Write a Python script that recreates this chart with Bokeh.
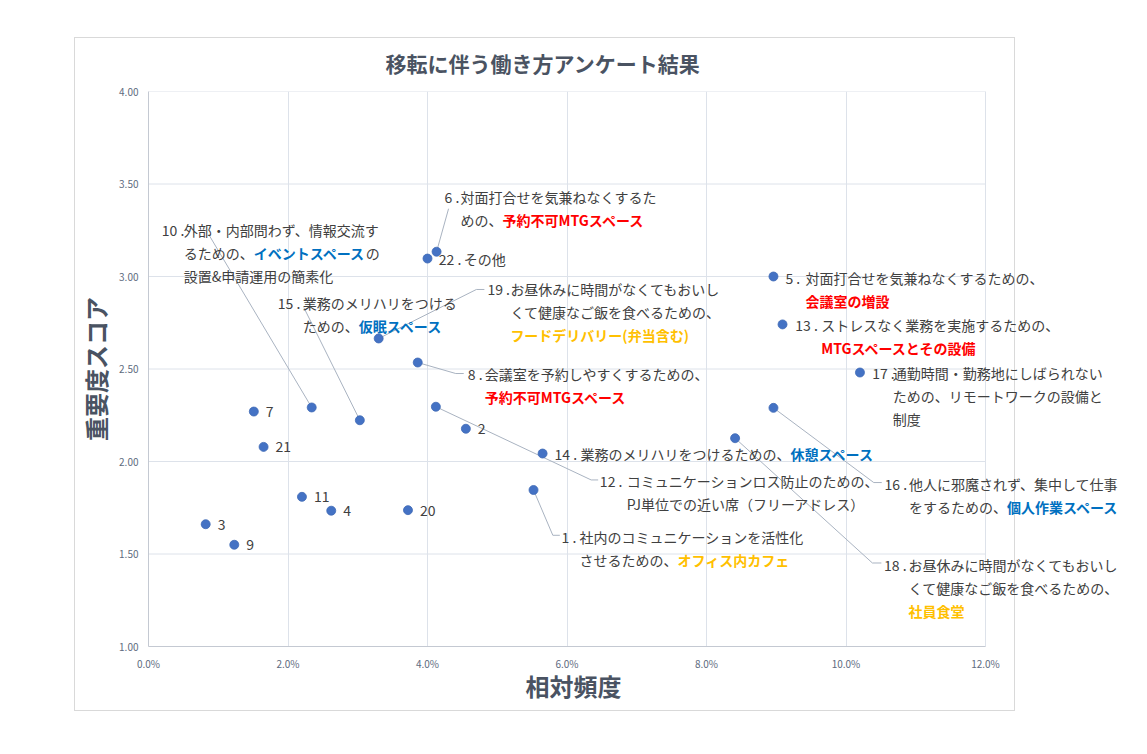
import re
from bokeh.plotting import figure
from bokeh.models import Range1d, Label, NumeralTickFormatter, FixedTicker, Title
from bokeh.embed import file_html
from bokeh.resources import INLINE

# ---------------- data ----------------
title_text = "移転に伴う働き方アンケート結果"
x_title = "相対頻度"
y_title = "重要度スコア"

ids = list(range(1, 23))
rel_freq = [0.0552, 0.0455, 0.0082, 0.0262, 0.0896, 0.0413, 0.0151, 0.0386, 0.0123, 0.0234, 0.0220,
            0.0412, 0.0909, 0.0565, 0.0303, 0.0896, 0.1020, 0.0841, 0.0330, 0.0372, 0.0165, 0.0400]
score = [1.846, 2.177, 1.661, 1.734, 3.000, 3.134, 2.270, 2.535, 1.550, 2.292, 1.809,
         2.296, 2.741, 2.043, 2.223, 2.290, 2.481, 2.126, 2.665, 1.737, 2.079, 3.097]

x_ticks = [0.0, 0.02, 0.04, 0.06, 0.08, 0.10, 0.12]
y_ticks = [1.0, 1.5, 2.0, 2.5, 3.0, 3.5, 4.0]

# [r:..] red, [b:..] blue, [y:..] gold highlights
label_text = {
    1: "社内のコミュニケーションを活性化\nさせるための、[y:オフィス内カフェ]",
    5: "対面打合せを気兼ねなくするための、\n[r:会議室の増設]",
    6: "対面打合せを気兼ねなくするた\nめの、[r:予約不可MTGスペース]",
    8: "会議室を予約しやすくするための、\n[r:予約不可MTGスペース]",
    10: "外部・内部問わず、情報交流す\nるための、[b:イベントスペース]の\n設置&申請運用の簡素化",
    12: "コミュニケーションロス防止のための、\nPJ単位での近い席（フリーアドレス）",
    13: "ストレスなく業務を実施するための、\n[r:MTGスペースとその設備]",
    14: "業務のメリハリをつけるための、[b:休憩スペース]",
    15: "業務のメリハリをつける\nための、[b:仮眠スペース]",
    16: "他人に邪魔されず、集中して仕事\nをするための、[b:個人作業スペース]",
    17: "通勤時間・勤務地にしばられない\nための、リモートワークの設備と\n制度",
    18: "お昼休みに時間がなくてもおいし\nくて健康なご飯を食べるための、\n[y:社員食堂]",
    19: "お昼休みに時間がなくてもおいし\nくて健康なご飯を食べるための、\n[y:フードデリバリー(弁当含む)]",
    22: "その他",
}

# ---------------- layout / style ----------------
PLOT_W, FRAME_H = 837, 555          # drawn plot area (0-12%, 1-4)
FRAME_W = 980                        # frame widened so that labels on the right are not clipped
PX_X = PLOT_W / (x_ticks[-1] - x_ticks[0])
PX_Y = FRAME_H / (y_ticks[-1] - y_ticks[0])
X_END = x_ticks[0] + FRAME_W / PX_X
FONT = "Noto Sans CJK JP"
FS = 14
LINE_H = 23
TEXT_COLOR = "#404040"
HL_COLORS = {"r": "#FF0000", "b": "#0070C0", "y": "#FFC000"}
DARK = "#4A5362"
TICK_COLOR = "#5E6B80"
GRID = "#DDE2EA"
LEADER = "#A9B3C1"
MARKER = "#4472C4"
BOX = "#D9D9D9"

# (num dx, num dy, text dx from number) in px relative to the point (dy downward)
LABEL_POS = {
    1: (28, 47, 18), 2: (12, 0, 0), 3: (12, 0, 0), 4: (12, 0, 0), 5: (12, 1.5, 20),
    6: (8, -55, 16), 7: (12, 0, 0), 8: (50, 11.5, 17), 9: (12, 0, 0), 10: (-150, -177, 22),
    11: (12, 0, 0), 12: (164, 74.7, 27), 13: (12.7, 1, 26), 14: (12, 0.5, 26),
    15: (-82, -117.7, 25), 16: (111, 75.7, 24.5), 17: (12.2, 0.5, 20.5), 18: (149, 126.6, 24.5),
    19: (108.7, -49, 23), 20: (12, 0, 0), 21: (12, 0, 0), 22: (11.3, 0, 25),
}
# leader line vertices in px offsets from the point (dy downward)
LEADERS = {
    6: [(12, -43)],
    10: [(-103, -173)],
    15: [(-56, -112.7)],
    19: [(97.7, -49), (105.7, -49)],
    8: [(38, 11), (46, 11)],
    12: [(155.3, 73.2), (162.3, 73.2)],
    1: [(19.3, 45.3), (26.3, 45.3)],
    16: [(100.3, 74.7), (108.3, 74.7)],
    18: [(137.3, 124.8), (146.3, 124.8)],
}


def seg_width(s, fs):
    w = 0.0
    for ch in s:
        o = ord(ch)
        if o >= 0x2E80:
            w += fs
        elif ch.isdigit():
            w += 0.57 * fs
        elif ch.isupper():
            w += 0.66 * fs
        elif ch == " ":
            w += 0.25 * fs
        else:
            w += 0.45 * fs
    return w


# outer chart box drawn with CSS behind a transparent canvas (canvas px)
box = (74, 37, 1014, 710)
g = f"linear-gradient({BOX},{BOX})"
bw, bh = box[2] - box[0], box[3] - box[1]
css_bg = (f"{g} {box[0]}px {box[1]}px / {bw}px 1px no-repeat, "
          f"{g} {box[0]}px {box[3]}px / {bw}px 1px no-repeat, "
          f"{g} {box[0]}px {box[1]}px / 1px {bh}px no-repeat, "
          f"{g} {box[2]}px {box[1]}px / 1px {bh + 1}px no-repeat, white")

p = figure(frame_width=FRAME_W, frame_height=FRAME_H,
           min_border_left=148, min_border_right=8, min_border_top=91, min_border_bottom=100,
           x_range=Range1d(x_ticks[0], X_END), y_range=Range1d(y_ticks[0], y_ticks[-1]),
           output_backend="svg", toolbar_location=None, title=title_text)
p.background_fill_color = None
p.border_fill_color = None
p.outline_line_color = None
p.styles = {"background": css_bg}

p.title.align = "left"
p.title.offset = 237
p.title.text_font = FONT
p.title.text_font_size = "21px"
p.title.text_font_style = "bold"
p.title.text_color = DARK
p.title.standoff = 28

p.xaxis.ticker = FixedTicker(ticks=x_ticks)
p.yaxis.ticker = FixedTicker(ticks=y_ticks)
p.xaxis.bounds = (x_ticks[0], x_ticks[-1])
p.xaxis.formatter = NumeralTickFormatter(format="0.0%")
p.yaxis.formatter = NumeralTickFormatter(format="0.00")
for ax in (p.xaxis, p.yaxis):
    ax.axis_line_color = "#C4C9D2"
    ax.major_tick_line_color = None
    ax.minor_tick_line_color = None
    ax.major_tick_out = 0
    ax.major_tick_in = 0
    ax.minor_tick_out = 0
    ax.major_label_text_font = FONT
    ax.major_label_text_font_size = "10px"
    ax.major_label_text_color = TICK_COLOR
    ax.axis_label_text_font = FONT
    ax.axis_label_text_font_size = "24px"
    ax.axis_label_text_font_style = "bold"
    ax.axis_label_text_color = DARK
p.yaxis.axis_label = y_title
p.xaxis.major_label_standoff = 9
p.yaxis.major_label_standoff = 10
p.yaxis.axis_label_standoff = 3
p.xgrid.grid_line_color = GRID
p.ygrid.grid_line_color = None

# x axis title, centred under the 0-12% plot area
p.add_layout(Title(text=x_title, align="left", offset=377, text_font=FONT, text_font_size="24px",
                   text_font_style="bold", text_color=DARK, standoff=-15), "below")

# horizontal gridlines limited to the plot area (0-12%)
p.segment(x0=[x_ticks[0]] * len(y_ticks), y0=y_ticks, x1=[x_ticks[-1]] * len(y_ticks), y1=y_ticks,
          line_color=GRID, line_width=1)
# right border of the plot area at 12%
p.segment(x0=[x_ticks[-1]], y0=[y_ticks[0]], x1=[x_ticks[-1]], y1=[y_ticks[-1]],
          line_color=GRID, line_width=1)

# leader lines
lx, ly = [], []
for k, path in LEADERS.items():
    i = ids.index(k)
    x0, y0 = rel_freq[i], score[i]
    lx.append([x0] + [x0 + dx / PX_X for dx, dy in path])
    ly.append([y0] + [y0 - dy / PX_Y for dx, dy in path])
p.multi_line(lx, ly, line_color=LEADER, line_width=1)

# markers
p.scatter(rel_freq, score, size=9, fill_color=MARKER, line_color="#3F69B5", line_width=0.8)

# data labels
seg_re = re.compile(r"\[(\w):([^\]]+)\]")
for i, k in enumerate(ids):
    x0, y0 = rel_freq[i], score[i]
    ndx, ndy, tdx = LABEL_POS[k]
    txt = label_text.get(k)
    num = f"{k} ." if txt else f"{k}"
    p.add_layout(Label(x=x0, y=y0, x_offset=ndx, y_offset=-ndy, text=num, text_font=FONT,
                       text_font_size=f"{FS}px", text_color=TEXT_COLOR, text_baseline="middle"))
    if not txt:
        continue
    for li, line in enumerate(txt.split("\n")):
        segs = []
        pos = 0
        for m in seg_re.finditer(line):
            if m.start() > pos:
                segs.append((line[pos:m.start()], None))
            segs.append((m.group(2), m.group(1)))
            pos = m.end()
        if pos < len(line):
            segs.append((line[pos:], None))
        cur = ndx + tdx
        for s, key in segs:
            p.add_layout(Label(x=x0, y=y0, x_offset=cur, y_offset=-(ndy + li * LINE_H), text=s,
                               text_font=FONT, text_font_size=f"{FS}px",
                               text_font_style="bold" if key else "normal",
                               text_color=HL_COLORS[key] if key else TEXT_COLOR,
                               text_baseline="middle"))
            cur += seg_width(s, FS)

open("out.html", "w").write(file_html(p, INLINE))
